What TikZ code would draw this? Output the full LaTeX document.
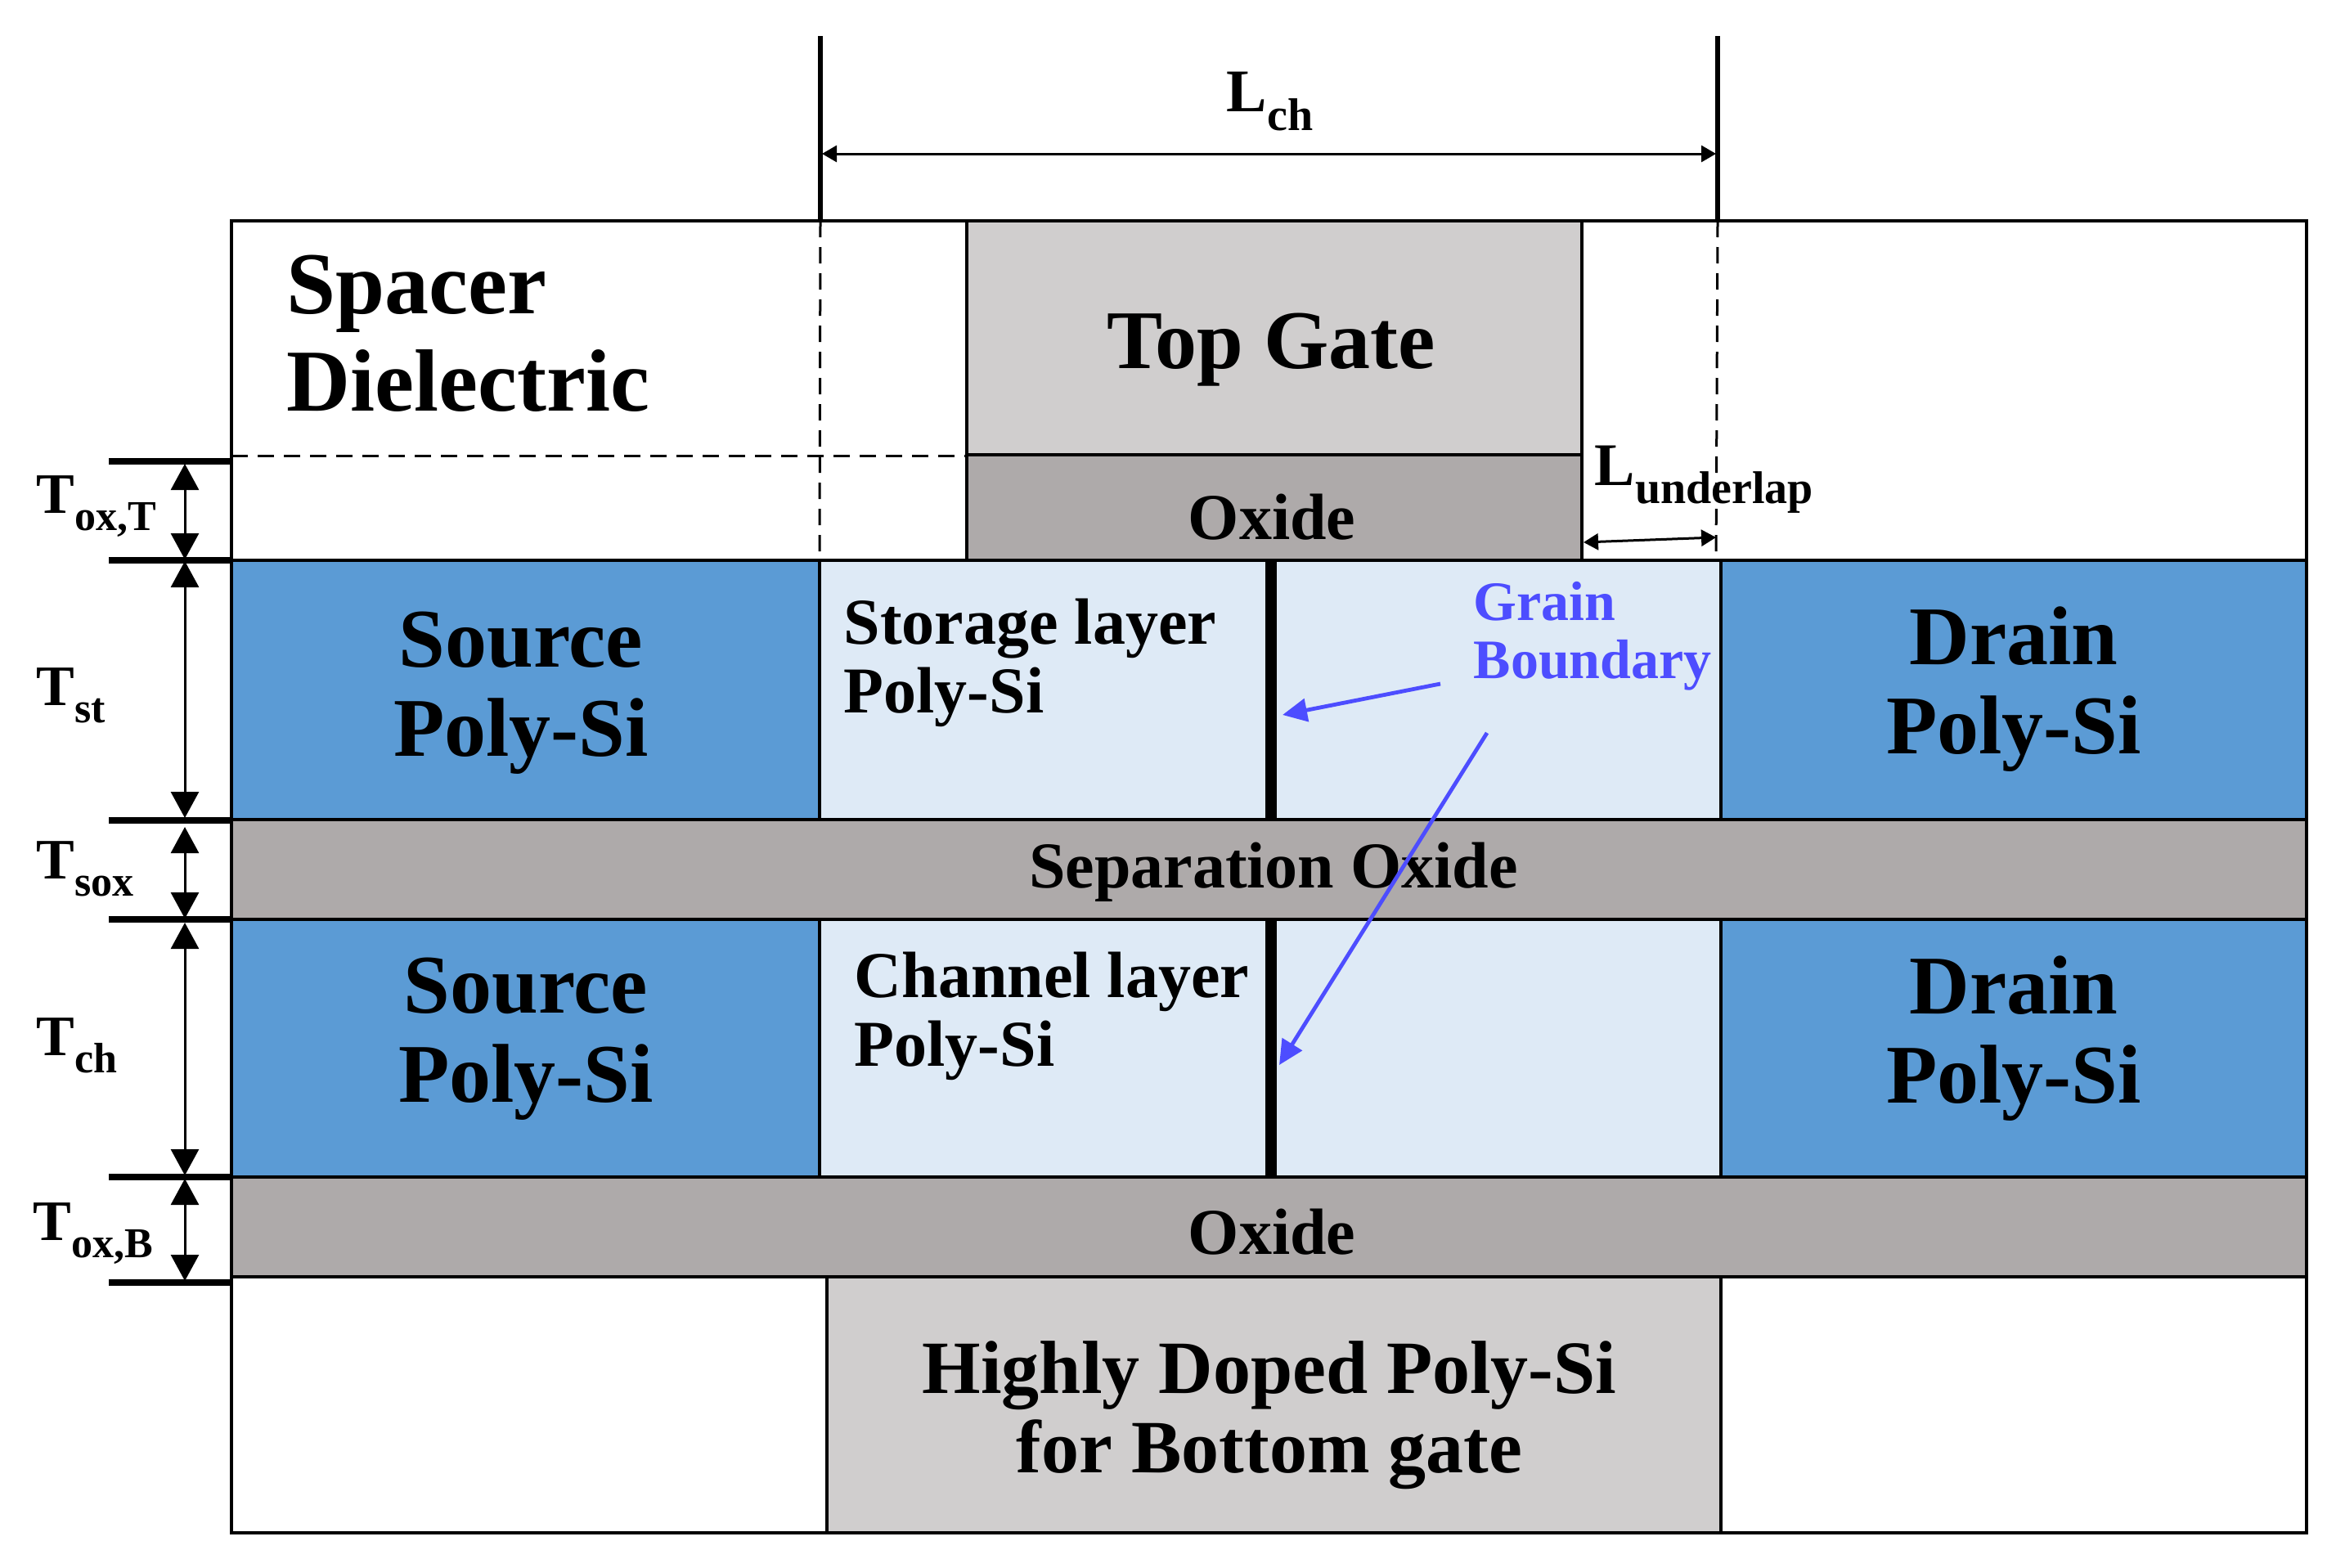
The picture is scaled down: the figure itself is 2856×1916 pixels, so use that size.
\documentclass[tikz,border=0pt]{standalone}
\usepackage{fontspec}
\setmainfont{Liberation Serif}
\usetikzlibrary{arrows.meta}
\definecolor{srcblue}{HTML}{5B9BD5}
\definecolor{lightblue}{HTML}{DEEAF6}
\definecolor{oxgray}{HTML}{AEAAAA}
\definecolor{gategray}{HTML}{D0CECE}
\definecolor{gbblue}{HTML}{4D4DFF}
\newcommand{\fsz}[1]{\fontsize{#1}{#1}\selectfont\bfseries}
\newcommand{\dimlbl}[4]{\fontsize{#3}{#3}\selectfont\bfseries #1\raisebox{-0.3em}{\fontsize{#4}{#4}\selectfont #2}}
\tikzset{
  region/.style={draw=black,line width=1pt},
  lbl/.style={inner sep=0pt,anchor=west},
  txt/.style={inner sep=0pt,align=center},
  tick/.style={line width=2pt,black},
  bar/.style={line width=1.3pt,black},
  dim/.style={line width=0.75pt,black,{Triangle[length=8pt,width=8.5pt]}-{Triangle[length=8pt,width=8.5pt]}},
  dimsm/.style={line width=0.75pt,black,{Triangle[length=4.5pt,width=5pt]}-{Triangle[length=4.5pt,width=5pt]}},
  guide/.style={line width=0.75pt,black,dash pattern=on 5pt off 3pt},
  gb/.style={line width=3.4pt,black},
  gbarrow/.style={gbblue,line width=1.2pt,-{Triangle[length=7.5pt,width=7pt]}},
}
\begin{document}
\begin{tikzpicture}[x=0.25pt,y=-0.25pt]
\useasboundingbox (0,0) rectangle (2856,1916);
% outer box
\draw[region,fill=white] (283,270) rectangle (2820,1874);
% top stack
\draw[region,fill=gategray] (1182,270) rectangle (1934,556);
\draw[region,fill=oxgray] (1182,556) rectangle (1934,685);
% storage layer
\draw[region,fill=srcblue] (283,685) rectangle (1002,1002);
\draw[region,fill=lightblue] (1002,685) rectangle (2104,1002);
\draw[region,fill=srcblue] (2104,685) rectangle (2820,1002);
% separation
\draw[region,fill=oxgray] (283,1002) rectangle (2820,1124);
% channel layer
\draw[region,fill=srcblue] (283,1124) rectangle (1002,1439);
\draw[region,fill=lightblue] (1002,1124) rectangle (2104,1439);
\draw[region,fill=srcblue] (2104,1124) rectangle (2820,1439);
% bottom oxide and gate
\draw[region,fill=oxgray] (283,1439) rectangle (2820,1561);
\draw[region,fill=gategray] (1011,1561) rectangle (2104,1874);
% grain boundaries
\coordinate (gbAt) at (1554,685); \coordinate (gbAb) at (1554,1002);
\coordinate (gbBt) at (1554,1124); \coordinate (gbBb) at (1554,1439);
\draw[gb] (gbAt) -- (gbAb);
\draw[gb] (gbBt) -- (gbBb);
% dashed guides
\coordinate (lchLtop) at (1003,44); \coordinate (lchLbot) at (1003,270); \coordinate (lchLdash) at (1002,685);
\coordinate (lchRtop) at (2100,44); \coordinate (lchRbot) at (2100,270); \coordinate (lchRdash) at (2098,685);
\coordinate (dashL) at (283,557); \coordinate (dashR) at (1182,557);
\draw[guide] (lchLbot) -- (lchLdash);
\draw[guide] (lchRbot) -- (lchRdash);
\draw[guide] (dashL) -- (dashR);
\draw[bar] (lchLtop) -- (lchLbot);
\draw[bar] (lchRtop) -- (lchRbot);
% L dimensions
\coordinate (lchA) at (1005,188); \coordinate (lchB) at (2098,188);
\draw[dimsm] (lchA) -- (lchB);
\coordinate (uA) at (1936,663); \coordinate (uB) at (2098,657);
\draw[dimsm] (uA) -- (uB);
% ticks
\foreach \n/\y in {a/564,b/685,c/1003,d/1124,e/1439,f/1568}{
  \coordinate (t\n L) at (133,\y);
  \coordinate (t\n R) at (283,\y);
  \draw[tick] (t\n L) -- (t\n R);
}
% T dimensions
\coordinate (d1a) at (226,567); \coordinate (d1b) at (226,684);
\coordinate (d2a) at (226,686); \coordinate (d2b) at (226,1000);
\coordinate (d3a) at (226,1011); \coordinate (d3b) at (226,1123);
\coordinate (d4a) at (226,1128); \coordinate (d4b) at (226,1437);
\coordinate (d5a) at (226,1441); \coordinate (d5b) at (226,1566);
\draw[dim] (d1a) -- (d1b);
\draw[dim] (d2a) -- (d2b);
\draw[dim] (d3a) -- (d3b);
\draw[dim] (d4a) -- (d4b);
\draw[dim] (d5a) -- (d5b);
% texts
\node[lbl,align=left,font=\fsz{27}] (spacer) at (350,408) {Spacer\\[0.1em]Dielectric};
\node[txt,font=\fsz{25.5}] (topgate) at (1554,428) {Top Gate};
\node[txt,font=\fsz{20}] (oxT) at (1555,632) {Oxide};
\node[txt,font=\fsz{25.5}] (srcA) at (637,847) {Source\\[0.07em]Poly-Si};
\node[txt,font=\fsz{25.5}] (drnA) at (2462,843) {Drain\\[0.07em]Poly-Si};
\node[lbl,align=left,font=\fsz{20}] (store) at (1031,810) {Storage layer\\[0.05em]Poly-Si};
\node[txt,font=\fsz{20}] (sep) at (1557,1066) {Separation Oxide};
\node[txt,font=\fsz{25.5}] (srcB) at (643,1270) {Source\\[0.07em]Poly-Si};
\node[txt,font=\fsz{25.5}] (drnB) at (2462,1270) {Drain\\[0.07em]Poly-Si};
\node[lbl,align=left,font=\fsz{20}] (chan) at (1044,1242) {Channel layer\\[0.05em]Poly-Si};
\node[txt,font=\fsz{20}] (oxB) at (1555,1506) {Oxide};
\node[txt,font=\fsz{23}] (bg) at (1552,1730) {Highly Doped Poly-Si\\[0.05em]for Bottom gate};
\node[lbl,align=left,font=\fsz{17},text=gbblue] (grain) at (1801,778) {Grain\\[0.05em]Boundary};
% dimension labels
\node[lbl] (lTot) at (44,619) {\dimlbl{T}{ox,T}{17.5}{13}};
\node[lbl] (lTst) at (44,850) {\dimlbl{T}{st}{17.5}{13}};
\node[lbl] (lTso) at (44,1062) {\dimlbl{T}{sox}{17.5}{13}};
\node[lbl] (lTch) at (44,1278) {\dimlbl{T}{ch}{17.5}{13}};
\node[lbl] (lTob) at (40,1508) {\dimlbl{T}{ox,B}{17.5}{13}};
\node[lbl] (lLch) at (1499,124) {\dimlbl{L}{ch}{18.5}{14}};
\node[lbl] (lLun) at (1949,586) {\dimlbl{L}{underlap}{18.5}{14}};
% grain boundary arrows
\coordinate (gA) at (1761,836); \coordinate (gAe) at (1568,874);
\coordinate (gB) at (1818,896); \coordinate (gBe) at (1564,1302);
\draw[gbarrow] (gA) -- (gAe);
\draw[gbarrow] (gB) -- (gBe);
\end{tikzpicture}
\end{document}
